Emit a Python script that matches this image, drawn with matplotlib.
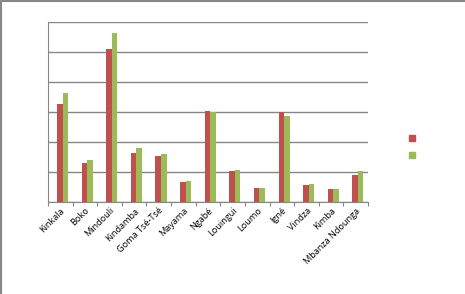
import numpy as np
import matplotlib.pyplot as plt
from matplotlib.patches import Rectangle

# district names and the two series (unit = one gridline step)
districts = ["Kinkala", "Boko", "Mindouli", "Kindamba", "Goma Tsé-Tsé", "Mayama",
             "Ngabé", "Louingui", "Loumo", "Igné", "Vindza", "Kimba", "Mbanza Ndounga"]
serie1 = [3.27, 1.30, 5.10, 1.63, 1.52, 0.68, 3.02, 1.03, 0.47, 3.00, 0.57, 0.43, 0.90]
serie2 = [3.63, 1.40, 5.63, 1.80, 1.60, 0.70, 3.00, 1.08, 0.47, 2.87, 0.60, 0.43, 1.03]
y_ticks = [0, 1, 2, 3, 4, 5, 6]

RED = "#C0504D"
GREEN = "#9BBB59"
GRID = "#868686"

W, H = 465, 294
fig = plt.figure(figsize=(W / 100, H / 100), dpi=100)

# overlay in pixel coords for the frame and legend markers
ov = fig.add_axes([0, 0, 1, 1])
ov.set_xlim(0, W)
ov.set_ylim(H, 0)
ov.axis("off")
ov.plot([0.7, 0.7, W], [H, 0.7, 0.7], color=GRID, linewidth=1.5)
ov.add_patch(Rectangle((409, 135), 5.5, 5.5, color=RED))
ov.add_patch(Rectangle((409, 152), 5.5, 5.5, color=GREEN))

# plot area in pixels: x 48..368, y 22..202
ax = fig.add_axes([48 / W, 1 - 202 / H, 320 / W, 180 / H])
ax.patch.set_alpha(0)

x = np.arange(len(districts))
bw = 0.225
ax.bar(x - bw / 2 + 0.09, serie1, width=bw, color=RED, zorder=3)
ax.bar(x + bw / 2 + 0.09, serie2, width=bw, color=GREEN, zorder=3)

ax.set_xlim(-0.5, len(districts) - 0.5)
ax.set_ylim(0, 6)
ax.set_yticks(y_ticks)
ax.set_yticklabels([])
ax.tick_params(axis="y", length=0)
ax.yaxis.grid(True, color=GRID, linewidth=1)
ax.set_axisbelow(True)

for s in ["top", "right"]:
    ax.spines[s].set_visible(False)
ax.spines["left"].set_color(GRID)
ax.spines["bottom"].set_color(GRID)

# ticks at category boundaries, labels at category centres
ax.set_xticks(np.arange(len(districts) + 1) - 0.5)
ax.set_xticklabels([])
ax.tick_params(axis="x", length=3, color=GRID, width=0.8)
ax.set_xticks(x, minor=True)
ax.set_xticklabels(districts, minor=True, rotation=45, ha="right",
                   rotation_mode="anchor", fontsize=6.6, family="Open Sans")
ax.tick_params(axis="x", which="minor", length=0, pad=3)

fig.savefig("out.png", dpi=100)
